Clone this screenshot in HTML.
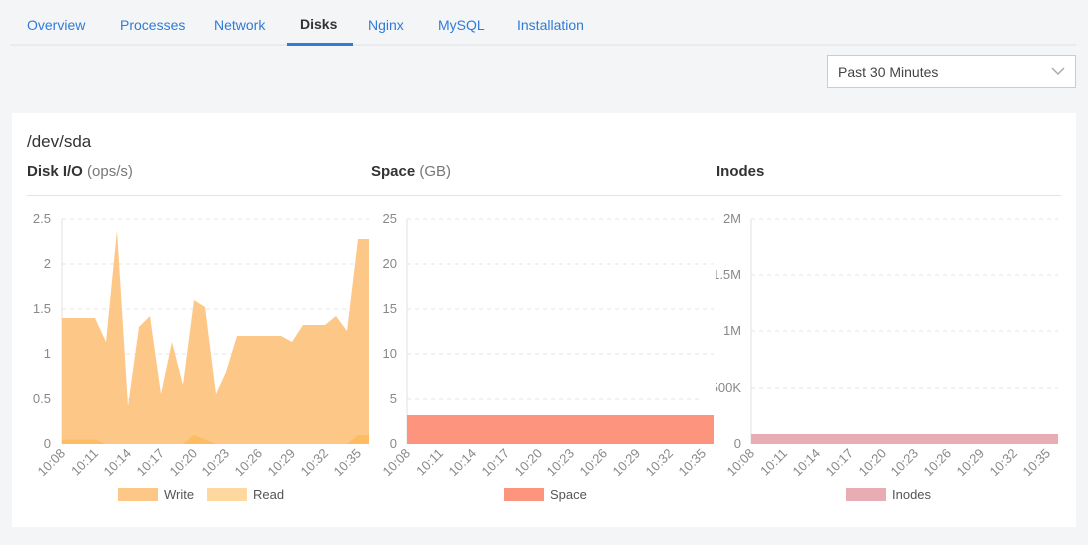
<!DOCTYPE html><html><head><style>
body{margin:0;width:1088px;height:540px;background:#f4f5f7;font-family:"Liberation Sans",sans-serif;overflow:hidden}
</style></head><body>
<svg width="1088" height="540" xmlns="http://www.w3.org/2000/svg" font-family="Liberation Sans, sans-serif">
<rect width="1088" height="540" fill="#f4f5f7"/>
<g font-size="14" fill="#2f7bd6">
<text x="27" y="30">Overview</text><text x="120" y="30">Processes</text><text x="214" y="30">Network</text>
<text x="300" y="29" fill="#333" font-weight="bold">Disks</text><text x="368" y="30">Nginx</text><text x="438" y="30">MySQL</text><text x="517" y="30">Installation</text>
</g>
<rect x="10" y="44.5" width="1066" height="1" fill="#dfe1e5"/>
<rect x="287" y="43" width="66" height="3" fill="#2f7bd6"/>
<rect x="827.5" y="55.5" width="248" height="32" fill="#fff" stroke="#ccc"/>
<text x="838" y="77" font-size="14" fill="#444">Past 30 Minutes</text>
<path d="M1052 68 l6 6 l6 -6" fill="none" stroke="#aaa" stroke-width="1.5"/>
<rect x="12" y="113" width="1064" height="414" fill="#fff"/>
<text x="27" y="147" font-size="17" fill="#333">/dev/sda</text>
<text x="27" y="176" font-size="15" fill="#333" font-weight="bold">Disk I/O <tspan fill="#777" font-weight="normal">(ops/s)</tspan></text>
<text x="371" y="176" font-size="15" fill="#333" font-weight="bold">Space <tspan fill="#777" font-weight="normal">(GB)</tspan></text>
<text x="716" y="176" font-size="15" fill="#333" font-weight="bold">Inodes</text>
<rect x="27" y="195" width="1034" height="1" fill="#e3e3e3"/>
<g stroke="#e6e6e6" stroke-dasharray="4,4">
<path d="M62 219H369M62 264H369M62 309H369M62 354H369M62 399H369"/>
<path d="M407 219H714M407 264H714M407 309H714M407 354H714M407 399H714"/>
<path d="M751 219H1058M751 275H1058M751 331H1058M751 388H1058"/>
</g>
<g stroke="#e0e0e0"><path d="M62 219V444M407 219V444M751 219V444"/></g>
<g font-size="13" fill="#888" text-anchor="end">
<text x="51" y="223">2.5</text><text x="51" y="268">2</text><text x="51" y="313">1.5</text><text x="51" y="358">1</text><text x="51" y="403">0.5</text><text x="51" y="448">0</text>
<text x="397" y="223">25</text><text x="397" y="268">20</text><text x="397" y="313">15</text><text x="397" y="358">10</text><text x="397" y="403">5</text><text x="397" y="448">0</text>
<text x="741" y="223">2M</text><text x="741" y="279">1.5M</text><text x="741" y="335">1M</text><text x="741" y="392">500K</text><text x="741" y="448">0</text>
</g>
<rect x="700" y="380" width="16" height="20" fill="#fff"/><rect x="700" y="268" width="16" height="16" fill="#fff"/>
<path d="M62 444V318H95L106 342L117 230L128 406L139 327L150 316L161 394L172 342L183 385L194 300L205 307L216 394L226 372L237 336H281L292 342L303 325H325L336 316L347 331L358 239H369V444Z" fill="#fdc887"/>
<path d="M62 444V439.5H95L106 444H183L194 435L205 439.5L216 444H347L358 435H369V444Z" fill="#fdbb62"/>
<rect x="407" y="415" width="307" height="29" fill="#fd957e"/>
<rect x="751" y="434" width="307" height="10" fill="#e8adb3"/>
<g font-size="13" fill="#888" text-anchor="end" id="ticks">
<text transform="translate(66,454) rotate(-45)">10:08</text><text transform="translate(99,454) rotate(-45)">10:11</text><text transform="translate(132,454) rotate(-45)">10:14</text><text transform="translate(165,454) rotate(-45)">10:17</text><text transform="translate(198,454) rotate(-45)">10:20</text><text transform="translate(230,454) rotate(-45)">10:23</text><text transform="translate(263,454) rotate(-45)">10:26</text><text transform="translate(296,454) rotate(-45)">10:29</text><text transform="translate(329,454) rotate(-45)">10:32</text><text transform="translate(362,454) rotate(-45)">10:35</text>
</g>
<use href="#ticks" x="345"/><use href="#ticks" x="689"/>
<rect x="118" y="488" width="40" height="13" fill="#fdc887"/><text x="164" y="499" font-size="13" fill="#555">Write</text>
<rect x="207" y="488" width="40" height="13" fill="#fed89e"/><text x="253" y="499" font-size="13" fill="#555">Read</text>
<rect x="504" y="488" width="40" height="13" fill="#fd957e"/><text x="550" y="499" font-size="13" fill="#555">Space</text>
<rect x="846" y="488" width="40" height="13" fill="#e8adb3"/><text x="892" y="499" font-size="13" fill="#555">Inodes</text>
</svg>
</body></html>
